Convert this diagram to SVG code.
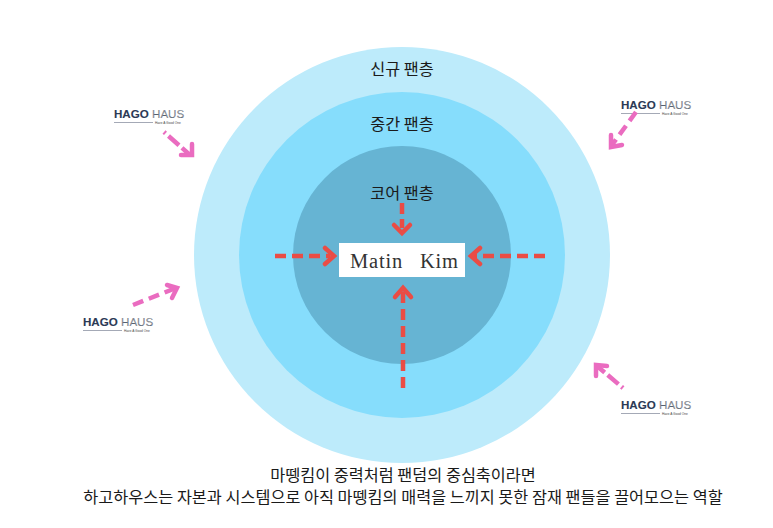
<svg xmlns="http://www.w3.org/2000/svg" width="773" height="528" viewBox="0 0 773 528">
<style>
.k{font-family:"Noto Sans CJK KR","Noto Sans",sans-serif;fill:#1a1a1a;text-anchor:middle}
.l{font-size:16.3px}
.c{font-size:16.3px}
.h{font-family:"Liberation Sans",Arial,sans-serif;font-size:11.6px;font-weight:700;fill:#2b3a55;stroke:#2b3a55;stroke-width:.1}
.h2{fill:#8b8f96;font-weight:400}
.s{font-family:"Liberation Sans",Arial,sans-serif;font-size:3.2px;fill:#444}
.r{fill:none;stroke:#ea4c45;stroke-width:4.5}
.p{fill:none;stroke:#ea6cc0;stroke-width:4.5}
.d{stroke-dasharray:11 6}
.m{font-family:"Liberation Serif",serif;font-size:20.5px;fill:#333;letter-spacing:.8px}
</style>
<defs>
<g id="logo">
<text class="h" x="0" y="0">HAGO <tspan class="h2">HAUS</tspan></text>
<path d="M0 4.500H39" stroke="#8d93a3" stroke-width=".8"/>
<text class="s" x="41" y="6">Have A Good One</text>
</g>
</defs>
<rect width="773" height="528" fill="#fff"/>
<g id="ring-outer"><circle cx="402" cy="255" r="208" fill="#bdebfb"/><text class="k l" x="402" y="75">신규 팬층</text></g>
<g id="ring-middle"><circle cx="402" cy="255" r="163" fill="#86ddfc"/><text class="k l" x="402" y="130">중간 팬층</text></g>
<g id="ring-core"><circle cx="402" cy="255" r="109" fill="#66b4d3"/><text class="k l" x="402" y="199">코어 팬층</text></g>
<g id="center"><rect x="339" y="243" width="126" height="34" fill="#fff"/><text class="m" y="268"><tspan x="350">Matin </tspan><tspan x="420">Kim</tspan></text></g>
<g id="logo-tl"><use href="#logo" x="114" y="118"/></g>
<g id="logo-tr"><use href="#logo" x="621" y="109"/></g>
<g id="logo-l"><use href="#logo" x="83" y="326"/></g>
<g id="logo-br"><use href="#logo" x="621" y="409"/></g>
<g id="connectors">
<path class="r" d="M402 203V228" stroke-dasharray="11 5"/>
<path class="r" d="M394 225L402 233L410 225" stroke-linecap="round"/>
<path class="r d" d="M275 256H330"/>
<path class="r" d="M325 248L334 256L325 264" stroke-linecap="round"/>
<path class="r d" d="M545 256H474"/>
<path class="r" d="M480 248L471 256L480 264" stroke-linecap="round"/>
<path class="r d" d="M403 388V292"/>
<path class="r" d="M395 297L403 288L411 297" stroke-linecap="round"/>
<path class="p" d="M164 132L190 155" stroke-dasharray="2 4 14 4 14 4"/>
<path class="p" d="M181 155H192V144" stroke-linecap="round"/>
<path class="p d" d="M636 112L612 145"/>
<path class="p" d="M611 135L611 147L622 145" stroke-linecap="round"/>
<path class="p d" d="M133 305L176 288"/>
<path class="p" d="M167 285L177 288L172 298" stroke-linecap="round"/>
<path class="p" d="M623 388L597 366" stroke-dasharray="2 4 14 4 14 4"/>
<path class="p" d="M596 376L596 365L607 366" stroke-linecap="round"/>
</g>
<g id="caption">
<text class="k c" x="403" y="480.500">마뗑킴이 중력처럼 팬덤의 중심축이라면</text>
<text class="k c" x="403" y="502.500">하고하우스는 자본과 시스템으로 아직 마뗑킴의 매력을 느끼지 못한 잠재 팬들을 끌어모으는 역할</text>
</g>
</svg>
